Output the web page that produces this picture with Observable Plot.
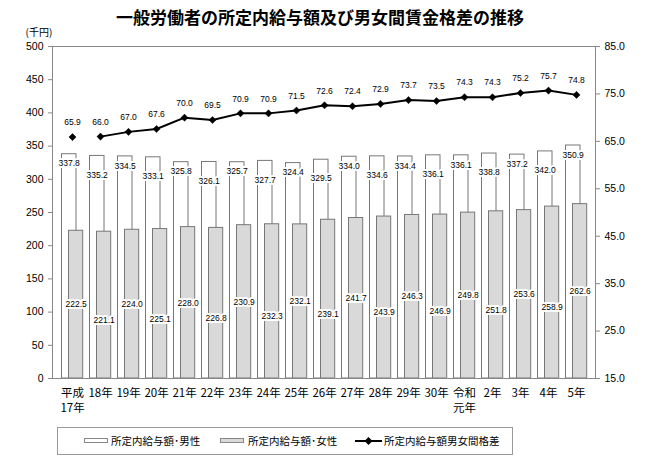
<!DOCTYPE html>
<html>
<head>
<meta charset="utf-8">
<script src="https://cdn.jsdelivr.net/npm/d3@7"></script>
<script src="https://cdn.jsdelivr.net/npm/@observablehq/plot@0.6"></script>
<style>
  body { margin: 0; background: white; font-family: "Liberation Sans", "Noto Sans CJK JP", sans-serif; }
  #title { width: 640px; height: 22px; text-align: center; font-family: "Noto Sans CJK JP", sans-serif; font-weight: 700; font-size: 17px; line-height: 34px; white-space: nowrap; overflow: visible; position: relative; z-index: 1; }
  #chart svg { display: block; }
  #legend { position: relative; margin-left: 57px; margin-top: -1px; width: 456px; height: 28px; border: 1px solid #999; box-sizing: border-box; font-family: "Noto Sans CJK JP", sans-serif; font-size: 10.5px; }
  #legend .t { position: absolute; top: 0; line-height: 26px; white-space: nowrap; }
  #legend .sw { position: absolute; top: 10px; width: 24px; height: 5px; border: 1px solid #888; box-sizing: border-box; }
  #legend svg { position: absolute; top: 8px; }
</style>
</head>
<body>
<div id="title">一般労働者の所定内給与額及び男女間賃金格差の推移</div>
<div id="chart"></div>
<div id="legend">
  <div class="sw" style="left:26px;background:white"></div>
  <div class="t" style="left:53px">所定内給与額･男性</div>
  <div class="sw" style="left:162px;background:#d9d9d9"></div>
  <div class="t" style="left:190px">所定内給与額･女性</div>
  <svg style="left:297px" width="27" height="10"><line x1="0" y1="5" x2="27" y2="5" stroke="black" stroke-width="2"/><path d="M13.5,1 L17.5,5 L13.5,9 L9.5,5 Z" fill="black"/></svg>
  <div class="t" style="left:326px">所定内給与額男女間格差</div>
</div>
<script>
const categories = ["平成\n17年","18年","19年","20年","21年","22年","23年","24年","25年","26年","27年","28年","29年","30年","令和\n元年","2年","3年","4年","5年"];
const maleWage = [337.8, 335.2, 334.5, 333.1, 325.8, 326.1, 325.7, 327.7, 324.4, 329.5, 334.0, 334.6, 334.4, 336.1, 336.1, 338.8, 337.2, 342.0, 350.9];
const femaleWage = [222.5, 221.1, 224.0, 225.1, 228.0, 226.8, 230.9, 232.3, 232.1, 239.1, 241.7, 243.9, 246.3, 246.9, 249.8, 251.8, 253.6, 258.9, 262.6];
const wageGap = [65.9, 66.0, 67.0, 67.6, 70.0, 69.5, 70.9, 70.9, 71.5, 72.6, 72.4, 72.9, 73.7, 73.5, 74.3, 74.3, 75.2, 75.7, 74.8];
const leftTicks = [0, 50, 100, 150, 200, 250, 300, 350, 400, 450, 500];
const rightTicks = [15, 25, 35, 45, 55, 65, 75, 85];

const toLeft = v => (v - 15) * 500 / 70;
const fromLeft = d => d * 70 / 500 + 15;

const rows = categories.map((c, i) => ({
  c, i,
  male: maleWage[i],
  female: femaleWage[i],
  gap: wageGap[i],
  g: toLeft(wageGap[i]),
  seg: i === 0 ? "a" : "b"
}));

const labelStyle = {fontSize: 8.5, fill: "black", stroke: "white", strokeWidth: 4};

const chart = Plot.plot({
  width: 654,
  height: 406,
  marginLeft: 52,
  marginRight: 59,
  marginTop: 24,
  marginBottom: 50,
  style: {fontFamily: "'Liberation Sans', 'Noto Sans CJK JP', sans-serif", fontSize: "10.5px", color: "black", background: "white"},
  x: {domain: categories, padding: 0, axis: null},
  y: {domain: [0, 500], axis: null},
  marks: [
    Plot.barY(rows, {x: "c", y: "male", fill: "white", stroke: "#777", strokeWidth: 1, insetLeft: 3.5, insetRight: 10}),
    Plot.barY(rows, {x: "c", y: "female", fill: "#d9d9d9", stroke: "#777", strokeWidth: 1, insetLeft: 10.5, insetRight: 3.3}),
    Plot.frame({stroke: "#888"}),
    Plot.text(rows, {filter: d => d.i % 2 === 0, x: "c", y: "male", text: d => d.male.toFixed(1), dx: -3.3, dy: 9.5, ...labelStyle}),
    Plot.text(rows, {filter: d => d.i % 2 === 1, x: "c", y: "male", text: d => d.male.toFixed(1), dx: -3.3, dy: 19, ...labelStyle}),
    Plot.text(rows, {filter: d => d.i % 2 === 0, x: "c", y: d => d.female / 2, text: d => d.female.toFixed(1), dx: 3.6, dy: 0, ...labelStyle}),
    Plot.text(rows, {filter: d => d.i % 2 === 1, x: "c", y: d => d.female / 2, text: d => d.female.toFixed(1), dx: 3.6, dy: 15, ...labelStyle}),
    Plot.line(rows, {x: "c", y: "g", z: "seg", stroke: "black", strokeWidth: 2}),
    Plot.dot(rows, {x: "c", y: "g", symbol: "diamond2", r: 3.2, fill: "black", stroke: "black", strokeWidth: 0.5}),
    Plot.text(rows, {x: "c", y: "g", text: d => d.gap.toFixed(1), dy: -14.5, fontSize: 8.5, fill: "black"}),
    Plot.axisY({anchor: "left", ticks: leftTicks, tickFormat: d => String(d), tickSize: 4, tickPadding: 5, stroke: "#888", fill: "black", fontSize: 10.5, label: null}),
    Plot.axisY({anchor: "right", ticks: rightTicks.map(toLeft), tickFormat: d => fromLeft(d).toFixed(1), tickSize: 4, tickPadding: 5, stroke: "#888", fill: "black", fontSize: 10.5, label: null}),
    Plot.text(categories, {x: d => d, text: d => d, frameAnchor: "bottom", lineAnchor: "top", dy: 8, fontSize: 11.5, lineHeight: 1.3, fill: "black", fontFamily: "'Noto Sans CJK JP', sans-serif"}),
    Plot.text(["(千円)"], {text: d => d, frameAnchor: "top-left", textAnchor: "start", lineAnchor: "middle", dx: -27, dy: -14, fontSize: 10, fill: "black", fontFamily: "'Noto Sans CJK JP', sans-serif"})
  ]
});
document.getElementById("chart").appendChild(chart);
</script>
</body>
</html>
